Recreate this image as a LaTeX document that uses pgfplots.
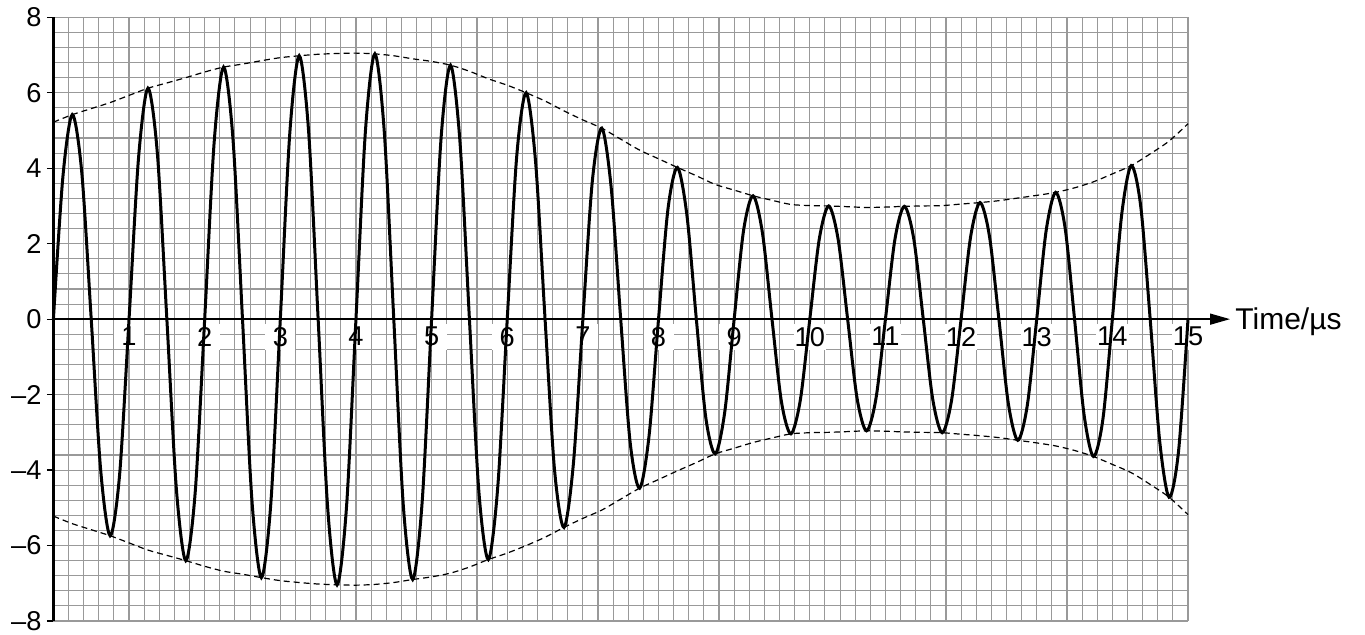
\documentclass[border=0pt]{standalone}
\usepackage{fontspec}
\setmainfont{Liberation Sans}
\usepackage{pgfplots}
\pgfplotsset{compat=1.18}
\usepackage{pgfplotstable}
\usetikzlibrary{arrows.meta}

% envelope of the modulated signal (upper and lower)
\pgfplotstableread{
t upper lower
0 5.22 -5.22
0.25 5.42 -5.42
0.5 5.58 -5.58
0.75 5.74 -5.74
1 5.93 -5.93
1.25 6.12 -6.12
1.5 6.26 -6.26
1.75 6.40 -6.40
2 6.55 -6.55
2.25 6.68 -6.68
2.5 6.76 -6.76
2.75 6.85 -6.85
3 6.93 -6.93
3.25 6.98 -6.98
3.5 7.02 -7.02
3.75 7.04 -7.04
4 7.05 -7.05
4.25 7.03 -7.03
4.5 6.98 -6.98
4.75 6.90 -6.90
5 6.83 -6.83
5.25 6.73 -6.73
5.5 6.57 -6.57
5.75 6.37 -6.37
6 6.20 -6.20
6.25 6.00 -6.00
6.5 5.78 -5.78
6.75 5.52 -5.52
7 5.28 -5.28
7.25 5.06 -5.06
7.5 4.77 -4.77
7.75 4.48 -4.48
8 4.25 -4.25
8.25 4.02 -4.02
8.5 3.80 -3.80
8.75 3.57 -3.57
9 3.42 -3.42
9.25 3.27 -3.27
9.5 3.15 -3.15
9.75 3.04 -3.04
10 3.01 -3.01
10.25 3.00 -3.00
10.5 2.98 -2.98
10.75 2.96 -2.96
11 2.97 -2.97
11.25 2.99 -2.99
11.5 3.00 -3.00
11.75 3.01 -3.01
12 3.05 -3.05
12.25 3.09 -3.09
12.5 3.14 -3.14
12.75 3.21 -3.21
13 3.28 -3.28
13.25 3.36 -3.36
13.5 3.48 -3.48
13.75 3.64 -3.64
14 3.85 -3.85
14.25 4.07 -4.07
14.5 4.38 -4.38
14.75 4.72 -4.72
15 5.18 -5.18
}\envelope

\begin{document}
\begin{tikzpicture}
\begin{axis}[
  scale only axis, width=567.3pt, height=301.85pt,
  xmin=0, xmax=15, ymin=-8, ymax=8,
  clip=false,
  axis line style={draw=none},
  xtick={0,...,15},
  minor xtick={0,0.2,...,15.01},
  ytick={-8,-6,...,8},
  minor ytick={-8,-7.6,...,8.01},
  grid=minor,
  minor grid style={black!40, line width=0.55pt},
  xticklabels={,,},
  xtick style={draw=none},
  every minor tick/.style={draw=none},
  ytick pos=left, tick align=outside, major tick length=3.3pt,
  ytick style={black, line width=0.6pt},
  yticklabels={–8,–6,–4,–2,0,2,4,6,8},
  yticklabel style={font=\fontsize{13.6}{16}\selectfont, inner sep=0pt, anchor=east, xshift=-2.5pt},
]
% time labels on white patches, below the axis line
\pgfplotsinvokeforeach{1,...,15}{
  \node[fill=white, anchor=north, yshift=-2pt, inner xsep=0.5pt, inner ysep=1.75pt,
        minimum width=15pt, font=\fontsize{13.6}{16}\selectfont] at (axis cs:#1,0) {#1};
}
% amplitude-modulated carrier
\addplot[black, line width=1.5pt, smooth] coordinates {
(0,0) (0.125,3.76) (0.25,5.42) (0.375,3.89) (0.5,0) (0.625,-4.00) (0.75,-5.74) (0.875,-4.13)
(1,0) (1.125,4.26) (1.25,6.12) (1.375,4.38) (1.5,0) (1.625,-4.48) (1.75,-6.40) (1.875,-4.58)
(2,0) (2.125,4.68) (2.25,6.68) (2.375,4.75) (2.5,0) (2.625,-4.81) (2.75,-6.85) (2.875,-4.87)
(3,0) (3.125,4.92) (3.25,6.98) (3.375,4.95) (3.5,0) (3.625,-4.97) (3.75,-7.04) (3.875,-4.98)
(4,0) (4.125,4.98) (4.25,7.03) (4.375,4.95) (4.5,0) (4.625,-4.91) (4.75,-6.90) (4.875,-4.85)
(5,0) (5.125,4.79) (5.25,6.73) (5.375,4.70) (5.5,0) (5.625,-4.57) (5.75,-6.37) (5.875,-4.44)
(6,0) (6.125,4.31) (6.25,6.00) (6.375,4.16) (6.5,0) (6.625,-3.99) (6.75,-5.52) (6.875,-3.82)
(7,0) (7.125,3.66) (7.25,5.06) (7.375,3.47) (7.5,0) (7.625,-3.27) (7.75,-4.48) (7.875,-3.09)
(8,0) (8.125,2.92) (8.25,4.02) (8.375,2.76) (8.5,0) (8.625,-2.61) (8.75,-3.57) (8.875,-2.47)
(9,0) (9.125,2.36) (9.25,3.27) (9.375,2.27) (9.5,0) (9.625,-2.19) (9.75,-3.04) (9.875,-2.14)
(10,0) (10.125,2.12) (10.25,3.00) (10.375,2.11) (10.5,0) (10.625,-2.10) (10.75,-2.96) (10.875,-2.10)
(11,0) (11.125,2.11) (11.25,2.99) (11.375,2.12) (11.5,0) (11.625,-2.12) (11.75,-3.01) (11.875,-2.14)
(12,0) (12.125,2.17) (12.25,3.09) (12.375,2.20) (12.5,0) (12.625,-2.24) (12.75,-3.21) (12.875,-2.29)
(13,0) (13.125,2.35) (13.25,3.36) (13.375,2.42) (13.5,0) (13.625,-2.52) (13.75,-3.64) (13.875,-2.65)
(14,0) (14.125,2.80) (14.25,4.07) (14.375,2.99) (14.5,0) (14.625,-3.22) (14.75,-4.72) (14.875,-3.50)
(15,0)
};
% envelope
\addplot[black, line width=0.6pt, dash pattern=on 3pt off 2pt, smooth] table[x=t, y=upper] {\envelope};
\addplot[black, line width=0.6pt, dash pattern=on 3pt off 2pt, smooth] table[x=t, y=lower] {\envelope};
% axes
\draw[black, line width=0.75pt, -{Triangle[length=10pt, width=5.5pt]}]
  (axis cs:0,0) -- ([xshift=21pt]axis cs:15,0)
  node[anchor=base west, xshift=-1pt, yshift=-5.4pt, font=\fontsize{15}{18}\selectfont] {Time/µs};
\draw[black, line width=1.2pt] (axis cs:0,-8) -- (axis cs:0,8);
\end{axis}
\pgfresetboundingbox
\path[use as bounding box] (-26.7pt,-6.5pt) rectangle (655.8pt,310.5pt);
\end{tikzpicture}
\end{document}
